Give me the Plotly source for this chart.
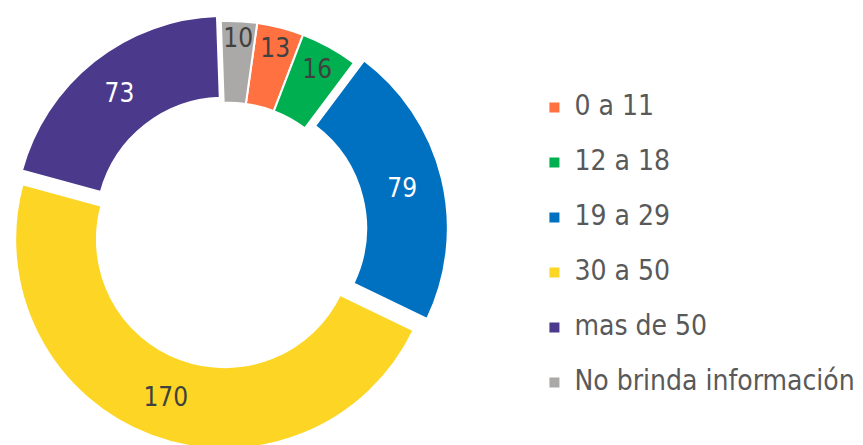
import plotly.graph_objects as go

categories = ["0 a 11", "12 a 18", "19 a 29", "30 a 50", "mas de 50", "No brinda información"]
values = [13, 16, 79, 170, 73, 10]

colors = ["#FF7140", "#00B050", "#0070C0", "#FDD525", "#4B3A8C", "#ABA8A8"]
text_colors = ["#404040", "#404040", "#FFFFFF", "#404040", "#FFFFFF", "#404040"]
pulls = [0, 0, 0.05, 0.045, 0.03, 0]

legend_labels = ["<span style='font-size:28px'>" + c + "</span><br> " for c in categories]

fig = go.Figure(go.Pie(
    labels=legend_labels,
    values=values,
    sort=False,
    direction="clockwise",
    rotation=8,
    hole=0.61,
    pull=pulls,
    marker=dict(colors=colors, line=dict(color="white", width=2)),
    textinfo="value",
    textposition="inside",
    insidetextorientation="horizontal",
    textfont=dict(color=text_colors, size=26, family="DejaVu Sans Condensed"),
    domain=dict(x=[0, 0.51], y=[0, 1]),
    hoverinfo="value",
))

fig.update_layout(
    width=863, height=445,
    margin=dict(l=0, r=0, t=0, b=0),
    paper_bgcolor="white",
    plot_bgcolor="white",
    uniformtext=dict(minsize=26, mode="show"),
    legend=dict(
        x=0.61, y=0.82, xanchor="left", yanchor="top",
        valign="top",
        font=dict(size=20, color="#595959", family="DejaVu Sans Condensed"),
        bgcolor="rgba(0,0,0,0)",
    ),
)

fig.write_html("out.html")
